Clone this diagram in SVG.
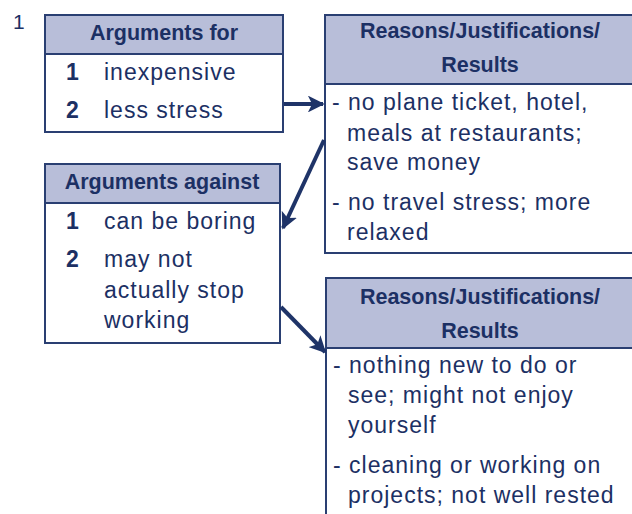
<svg xmlns="http://www.w3.org/2000/svg" width="632" height="514" viewBox="0 0 632 514">
<style>
.box{fill:#ffffff;stroke:#2a3f72;stroke-width:2}
.hdr{fill:#b8bed9;stroke:#2a3f72;stroke-width:2}
.ht{font-family:"Liberation Sans",Arial,sans-serif;font-weight:bold;font-size:21.5px;fill:#1c3064;text-anchor:middle}
.t{font-family:"Liberation Sans",Arial,sans-serif;font-size:23px;fill:#1c3064;letter-spacing:1px}
.n{font-family:"Liberation Sans",Arial,sans-serif;font-weight:bold;font-size:23px;fill:#1c3064}
.conn{stroke:#1f3468;stroke-width:4;fill:none}
</style>
<defs>
<marker id="ah" viewBox="0 0 10 10" refX="9" refY="5" markerWidth="4.2" markerHeight="4.2" orient="auto" markerUnits="strokeWidth">
<path d="M0,0 L10,5 L0,10 L2.5,5 Z" fill="#1f3468"/>
</marker>
</defs>
<text x="13" y="29" font-family="'Liberation Sans',Arial,sans-serif" font-size="21" fill="#1c3064">1</text>

<g id="args-for">
<rect class="box" x="45" y="15" width="238" height="117"/>
<rect class="hdr" x="45" y="15" width="238" height="39"/>
<text class="ht" x="164" y="40">Arguments for</text>
<text class="n" x="66" y="80">1</text>
<text class="t" x="104" y="80">inexpensive</text>
<text class="n" x="66" y="118">2</text>
<text class="t" x="104" y="118">less stress</text>
</g>

<g id="reasons-1">
<rect class="box" x="325" y="15" width="320" height="238"/>
<rect class="hdr" x="325" y="15" width="320" height="69"/>
<text class="ht" x="480" y="38">Reasons/Justifications/</text>
<text class="ht" x="480" y="72">Results</text>
<text class="t" x="332" y="110">- no plane ticket, hotel,</text>
<text class="t" x="347" y="141">meals at restaurants;</text>
<text class="t" x="347" y="170">save money</text>
<text class="t" x="332" y="210">- no travel stress; more</text>
<text class="t" x="347" y="240">relaxed</text>
</g>

<g id="args-against">
<rect class="box" x="45" y="164" width="235" height="179"/>
<rect class="hdr" x="45" y="164" width="235" height="39"/>
<text class="ht" x="162" y="189">Arguments against</text>
<text class="n" x="66" y="229">1</text>
<text class="t" x="104" y="229">can be boring</text>
<text class="n" x="66" y="267">2</text>
<text class="t" x="104" y="267">may not</text>
<text class="t" x="104" y="298">actually stop</text>
<text class="t" x="104" y="328">working</text>
</g>

<g id="reasons-2">
<rect class="box" x="326" y="278" width="320" height="260"/>
<rect class="hdr" x="326" y="278" width="320" height="70"/>
<text class="ht" x="480" y="304">Reasons/Justifications/</text>
<text class="ht" x="480" y="338">Results</text>
<text class="t" x="333" y="373">- nothing new to do or</text>
<text class="t" x="348" y="403">see; might not enjoy</text>
<text class="t" x="348" y="433">yourself</text>
<text class="t" x="333" y="473">- cleaning or working on</text>
<text class="t" x="348" y="503">projects; not well rested</text>
</g>

<g id="connectors">
<line class="conn" x1="284" y1="104" x2="323" y2="104" marker-end="url(#ah)"/>
<line class="conn" x1="324" y1="140" x2="283" y2="228" marker-end="url(#ah)"/>
<line class="conn" x1="281" y1="307" x2="325" y2="352" marker-end="url(#ah)"/>
</g>
</svg>
